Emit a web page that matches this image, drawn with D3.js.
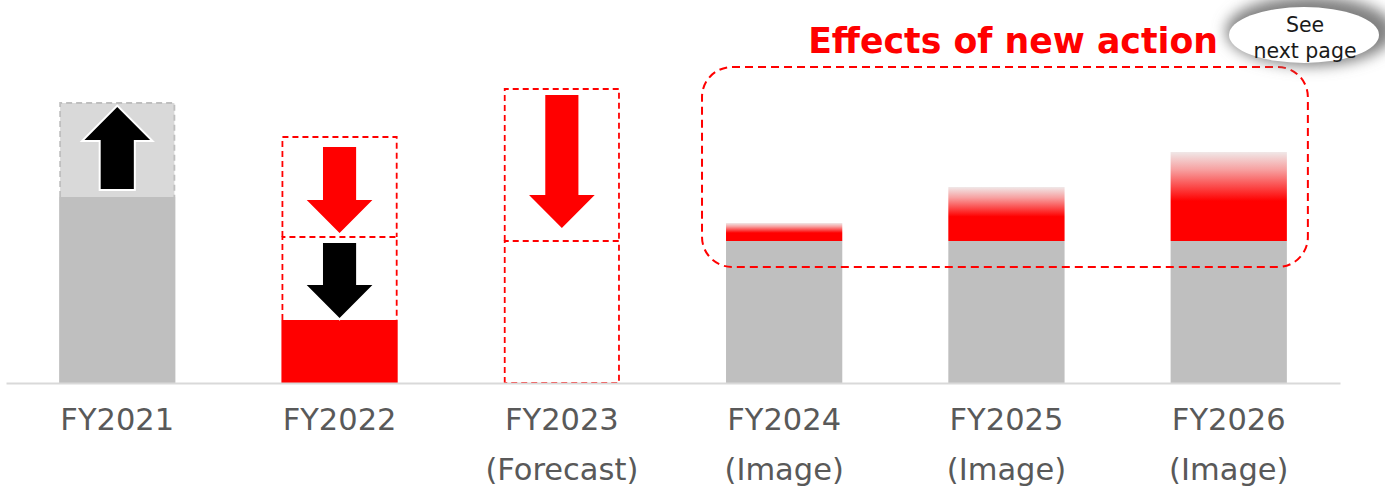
<!DOCTYPE html>
<html>
<head>
<meta charset="utf-8">
<script src="https://cdn.jsdelivr.net/npm/d3@7"></script>
<style>
  html, body { margin: 0; padding: 0; background: #fff; }
  svg { display: block; }
</style>
</head>
<body>
<svg id="chart" width="1385" height="490"></svg>
<script>
// ---------- data ----------
const categories = ["FY2021", "FY2022", "FY2023", "FY2024", "FY2025", "FY2026"];
const subLabels  = ["", "", "(Forecast)", "(Image)", "(Image)", "(Image)"];
// solid segments (index units, baseline = 0)
const baseGray   = [186, 0, 0, 142, 142, 142];
const baseRed    = [0, 63, 0, 0, 0, 0];
const newAction  = [0, 0, 0, 18, 54, 89];       // gradient red on top of gray
// outlined (dashed) segments: [category, from, to, kind]
const ghostSegments = [
  ["FY2021", 186, 280, "gray"],
  ["FY2022", 63, 146, "red"],
  ["FY2022", 146, 246, "red"],
  ["FY2023", 0, 142, "red"],
  ["FY2023", 142, 294, "red"]
];
// arrows: [category, tail value, tip value, colour]
const arrows = [
  ["FY2021", 194, 276, "#000000"],
  ["FY2022", 236, 150, "#ff0000"],
  ["FY2022", 140, 65, "#000000"],
  ["FY2023", 288, 155, "#ff0000"]
];
const titleText = "Effects of new action";
const bubbleLines = ["See", "next page"];
const groupRange = ["FY2024", "FY2026", 116, 316]; // dashed group box: from cat, to cat, low, high

// ---------- layout ----------
const svg = d3.select("#chart");
const x = d3.scaleBand().domain(categories).range([6, 1340]).paddingInner(0.477).paddingOuter(0.239);
const y = d3.scaleLinear().domain([0, 300]).range([383, 83]);
const bw = x.bandwidth();

const defs = svg.append("defs");
const grad = defs.append("linearGradient").attr("id", "fade").attr("x1", 0).attr("y1", 0).attr("x2", 0).attr("y2", 1);
grad.append("stop").attr("offset", "0").attr("stop-color", "#f0e8e8");
grad.append("stop").attr("offset", "0.2").attr("stop-color", "#f7a0a0");
grad.append("stop").attr("offset", "0.55").attr("stop-color", "#ff0000");
grad.append("stop").attr("offset", "1").attr("stop-color", "#ff0000");

const blur = defs.append("filter").attr("id", "glow").attr("x", "-50%").attr("y", "-50%").attr("width", "200%").attr("height", "200%");
blur.append("feGaussianBlur").attr("stdDeviation", 7);

// light fill of gray ghost segment (drawn under everything)
svg.append("g").selectAll("rect").data(ghostSegments.filter(d => d[3] === "gray"))
  .join("rect")
  .attr("x", d => x(d[0]) + 1).attr("width", bw - 2)
  .attr("y", d => y(d[2])).attr("height", d => y(d[1]) - y(d[2]))
  .attr("fill", "#d9d9d9");

// solid gray bars
svg.append("g").selectAll("rect").data(categories.map((c, i) => ({c, v: baseGray[i]})).filter(d => d.v > 0))
  .join("rect")
  .attr("x", d => x(d.c)).attr("width", bw)
  .attr("y", d => y(d.v)).attr("height", d => y(0) - y(d.v))
  .attr("fill", "#bfbfbf");

// solid red bars
svg.append("g").selectAll("rect").data(categories.map((c, i) => ({c, v: baseRed[i]})).filter(d => d.v > 0))
  .join("rect")
  .attr("x", d => x(d.c)).attr("width", bw)
  .attr("y", d => y(d.v)).attr("height", d => y(0) - y(d.v))
  .attr("fill", "#ff0000");

// new action gradient segments
svg.append("g").selectAll("rect").data(categories.map((c, i) => ({c, b: baseGray[i], v: newAction[i]})).filter(d => d.v > 0))
  .join("rect")
  .attr("x", d => x(d.c)).attr("width", bw)
  .attr("y", d => y(d.b + d.v)).attr("height", d => y(d.b) - y(d.b + d.v))
  .attr("fill", "url(#fade)");

// dashed ghost segment outlines (open bottom unless on baseline, to avoid overlapping dashes)
svg.append("g").selectAll("path").data(ghostSegments)
  .join("path")
  .attr("d", d => {
    const x0 = x(d[0]) + 1, x1 = x(d[0]) + bw - 1, yb = y(d[1]), yt = y(d[2]);
    let p = `M${x0},${yb}L${x0},${yt}L${x1},${yt}L${x1},${yb}`;
    if (d[1] === 0) p += "Z";
    return p;
  })
  .attr("fill", "none")
  .attr("stroke", d => d[3] === "gray" ? "#bfbfbf" : "#ff0000")
  .attr("stroke-opacity", d => 1)
  .attr("stroke-width", 1.8)
  .attr("stroke-dasharray", "6,4");

// axis
const axis = svg.append("g").attr("transform", `translate(0,${y(0)})`)
  .call(d3.axisBottom(x).tickSize(0).tickSizeOuter(0).tickPadding(20));
axis.select(".domain").attr("stroke", "#d9d9d9").attr("stroke-width", 2);
axis.selectAll(".tick text")
  .attr("font-family", "DejaVu Sans, Verdana, sans-serif")
  .attr("font-size", 30.5)
  .attr("fill", "#595959")
  .attr("dy", null)
  .attr("y", 47)
  .each(function(d, i) {
    const t = d3.select(this);
    if (subLabels[i]) {
      t.append("tspan").attr("x", 0).attr("dy", 50).text(subLabels[i]);
    }
  });

// arrows
function arrowPath(cx, yTail, yTip, sw, hw, hl) {
  const dir = Math.sign(yTip - yTail);
  const hb = yTip - dir * hl;
  return d3.line()([
    [cx - sw / 2, yTail], [cx + sw / 2, yTail], [cx + sw / 2, hb], [cx + hw / 2, hb],
    [cx, yTip], [cx - hw / 2, hb], [cx - sw / 2, hb]
  ]) + "Z";
}
svg.append("g").selectAll("path").data(arrows)
  .join("path")
  .attr("d", d => arrowPath(x(d[0]) + bw / 2, y(d[1]), y(d[2]), bw * 0.285, bw * 0.565, 33))
  .attr("fill", d => d[3])
  .attr("stroke", "#ffffff")
  .attr("stroke-width", 4)
  .attr("stroke-linejoin", "miter")
  .attr("paint-order", "stroke");

// dashed group box
const gx0 = x(groupRange[0]) - 24, gx1 = x(groupRange[1]) + bw + 21;
svg.append("rect")
  .attr("x", gx0).attr("y", y(groupRange[3]))
  .attr("width", gx1 - gx0).attr("height", y(groupRange[2]) - y(groupRange[3]))
  .attr("rx", 30).attr("ry", 30)
  .attr("fill", "none").attr("stroke", "#ff0000").attr("stroke-width", 2)
  .attr("stroke-dasharray", "8,5");

// title
const title = svg.append("text")
  .attr("x", 1218).attr("y", 53)
  .attr("text-anchor", "end")
  .attr("font-family", "DejaVu Sans, Verdana, sans-serif")
  .attr("font-weight", "bold")
  .attr("font-size", 36)
  .attr("fill", "#ff0000")
  .text(titleText);
const tl = title.node().getComputedTextLength();
title.attr("font-size", 36 * 410 / tl);

// bubble
svg.append("ellipse").attr("cx", 1310).attr("cy", 31).attr("rx", 84).attr("ry", 35)
  .attr("fill", "#808080").attr("filter", "url(#glow)");
svg.append("ellipse").attr("cx", 1304).attr("cy", 35).attr("rx", 75).attr("ry", 28)
  .attr("fill", "#ffffff");
svg.append("text")
  .attr("text-anchor", "middle")
  .attr("font-family", "DejaVu Sans, Verdana, sans-serif")
  .attr("font-size", 20.5)
  .attr("fill", "#1a1a1a")
  .selectAll("tspan").data(bubbleLines).join("tspan")
  .attr("x", 1305).attr("y", (d, i) => 32 + i * 26)
  .text(d => d);
</script>
</body>
</html>
